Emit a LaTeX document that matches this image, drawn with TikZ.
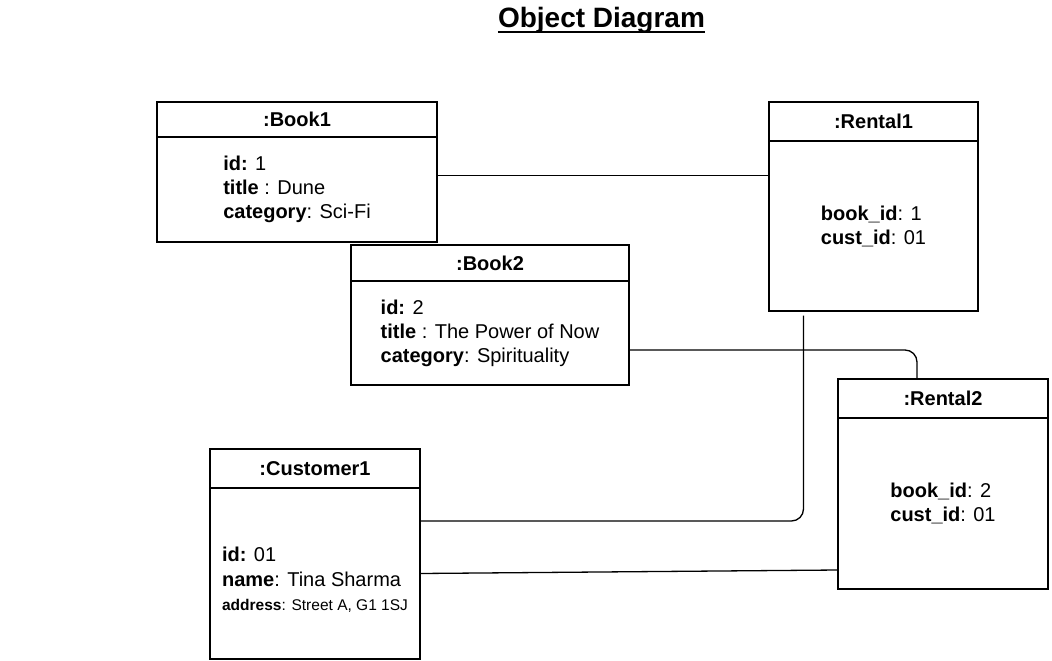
\documentclass[tikz,border=0pt]{standalone}
\usepackage{fontspec}
\setmainfont{Liberation Sans}
\usetikzlibrary{positioning}

\begin{document}
\begin{tikzpicture}[
    x=1pt, y=-1pt,
    every node/.style={font=\fontsize{20}{24}\selectfont},
    objhead/.style={draw, line width=1.3pt, outer sep=0pt, inner sep=0pt, font=\fontsize{20}{24}\selectfont\bfseries},
    objbody/.style={draw, line width=1.3pt, outer sep=0pt, align=left},
    link/.style={line width=1.3pt, rounded corners=12pt}
]
\useasboundingbox (0,0) rectangle (1052,661);

% --- Title ---
\node[font=\fontsize{28}{32}\selectfont\bfseries, inner sep=0pt, anchor=base] (title) at (601.5,28) {Object Diagram};
\draw[line width=1.6pt] ([yshift=-4pt]title.base west) -- ([yshift=-4pt]title.base east);

% --- Books ---
\node[objhead, minimum width=280, minimum height=35] (book1) at (297,119.5) {:Book1};
\node[objbody, minimum width=280, minimum height=105, below=0pt of book1] (book1b)
    {\textbf{id:} 1\\ \textbf{title} : Dune\\ \textbf{category}: Sci-Fi};

\node[objhead, minimum width=278, minimum height=36] (book2) at (490,263) {:Book2};
\node[objbody, minimum width=278, minimum height=104, below=0pt of book2] (book2b)
    {\textbf{id:} 2\\ \textbf{title} : The Power of Now\\ \textbf{category}: Spirituality};

% --- Rentals ---
\node[objhead, minimum width=209, minimum height=39] (rental1) at (873.5,121.5) {:Rental1};
\node[objbody, minimum width=209, minimum height=170, below=0pt of rental1] (rental1b)
    {\textbf{book\_id}: 1\\ \textbf{cust\_id}: 01};

\node[objhead, minimum width=210, minimum height=39] (rental2) at (943,398.5) {:Rental2};
\node[objbody, minimum width=210, minimum height=171, below=0pt of rental2] (rental2b)
    {\textbf{book\_id}: 2\\ \textbf{cust\_id}: 01};

% --- Customer ---
\node[objhead, minimum width=210, minimum height=39] (cust1) at (315,468.5) {:Customer1};
\node[objbody, minimum width=210, minimum height=171, below=0pt of cust1] (cust1b)
    {\rule{0pt}{26pt}\textbf{id:} 01\\[1pt] \textbf{name}: Tina Sharma\\ {\fontsize{15.5}{18}\selectfont\textbf{address}: Street A, G1 1SJ}};

% --- Links ---
\draw[link] ([yshift=14pt]book1b.east) -- ([yshift=14pt]book1b.east -| rental1b.west);
\draw[link] ([yshift=-17pt]book2b.east) -| ([xshift=-26pt]rental2.north);
\draw[link] ([xshift=-70pt,yshift=-4.5pt]rental1b.south) |- ([yshift=52.5pt]cust1b.east);
\draw[link] (cust1b.east) -- ([yshift=-66.5pt]rental2b.west);

\end{tikzpicture}
\end{document}
